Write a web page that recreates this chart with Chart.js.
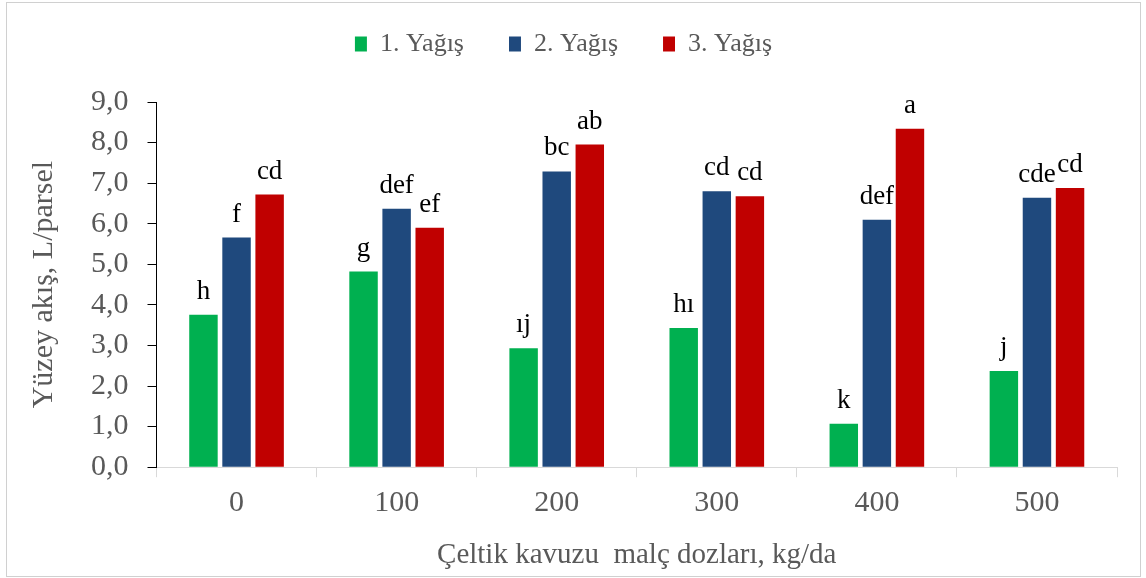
<!DOCTYPE html>
<html>
<head>
<meta charset="utf-8">
<script src="https://cdn.jsdelivr.net/npm/chart.js@4"></script>
<style>
    body { margin: 0; background: #fff; }
</style>
</head>
<body>
<canvas id="akisChart" width="1146" height="578"></canvas>
<script>
const categories = ["0", "100", "200", "300", "400", "500"];
const seriesNames = ["1. Yağış", "2. Yağış", "3. Yağış"];
const yagis1 = [3.76, 4.82, 2.93, 3.43, 1.07, 2.37];
const yagis2 = [5.66, 6.37, 7.29, 6.80, 6.10, 6.64];
const yagis3 = [6.72, 5.90, 7.95, 6.68, 8.34, 6.88];
// significance letters above the bars
const harf1 = ["h", "g", "ıj", "hı", "k", "j"];
const harf2 = ["f", "def", "bc", "cd", "def", "cde"];
const harf3 = ["cd", "ef", "ab", "cd", "a", "cd"];
const yMin = 0, yMax = 9, yStep = 1;

const serif = "'Liberation Serif', 'Times New Roman', serif";
const grey = "#595959";

// frame around the whole picture
const framePlugin = {
    id: "frame",
    beforeDraw(chart) {
        const ctx = chart.ctx;
        ctx.save();
        ctx.fillStyle = "#fff";
        ctx.fillRect(0, 0, chart.width, chart.height);
        ctx.strokeStyle = "#d0d0d0";
        ctx.lineWidth = 1;
        ctx.strokeRect(6.5, 2.5, 1134, 574);
        ctx.restore();
    }
};

// more room between legend and plot
const legendSpace = {
    id: "legendSpace",
    beforeInit(chart) {
        const fit = chart.legend.fit;
        chart.legend.fit = function () {
            fit.bind(chart.legend)();
            this.height = 116;
        };
    }
};

// letters drawn over each bar
const letterPlugin = {
    id: "letters",
    afterDatasetsDraw(chart) {
        const ctx = chart.ctx;
        const letters = [harf1, harf2, harf3];
        ctx.save();
        ctx.font = "27px " + serif;
        ctx.fillStyle = "#000";
        ctx.textAlign = "center";
        ctx.textBaseline = "alphabetic";
        chart.data.datasets.forEach((ds, di) => {
            chart.getDatasetMeta(di).data.forEach((bar, i) => {
                ctx.fillText(letters[di][i], bar.x, bar.y - 16);
            });
        });
        ctx.restore();
    }
};

const ctx = document.getElementById("akisChart").getContext("2d");
new Chart(ctx, {
    type: "bar",
    data: {
        labels: categories,
        datasets: [
            { label: seriesNames[0], data: yagis1, backgroundColor: "#00b050" },
            { label: seriesNames[1], data: yagis2, backgroundColor: "#1f497d" },
            { label: seriesNames[2], data: yagis3, backgroundColor: "#c00000" }
        ]
    },
    options: {
        responsive: false,
        animation: false,
        categoryPercentage: 0.62,
        barPercentage: 0.86,
        layout: { padding: { top: -14, left: 10, right: 29, bottom: 3 } },
        plugins: {
            legend: {
                position: "top",
                labels: {
                    font: { family: serif, size: 26 },
                    color: grey,
                    boxWidth: 12,
                    boxHeight: 15,
                    padding: 45
                }
            },
            tooltip: { enabled: false }
        },
        scales: {
            x: {
                grid: { drawOnChartArea: false, color: "#d9d9d9", tickLength: 10 },
                border: { color: "#d9d9d9" },
                ticks: { font: { family: serif, size: 30 }, color: grey, padding: 8 },
                title: {
                    display: true,
                    text: "Çeltik kavuzu  malç dozları, kg/da",
                    font: { family: serif, size: 29 },
                    color: grey,
                    padding: { top: 9, bottom: 2 }
                }
            },
            y: {
                min: yMin,
                max: yMax,
                grid: { drawOnChartArea: false, color: "#000", tickLength: 9 },
                border: { color: "#000" },
                ticks: {
                    stepSize: yStep,
                    font: { family: serif, size: 30 },
                    color: grey,
                    padding: 19,
                    callback: v => v.toFixed(1).replace(".", ",")
                },
                title: {
                    display: true,
                    text: "Yüzey akış, L/parsel",
                    font: { family: serif, size: 30 },
                    color: grey,
                    padding: { top: 16, bottom: 10 }
                }
            }
        }
    },
    plugins: [framePlugin, legendSpace, letterPlugin]
});
</script>
</body>
</html>
